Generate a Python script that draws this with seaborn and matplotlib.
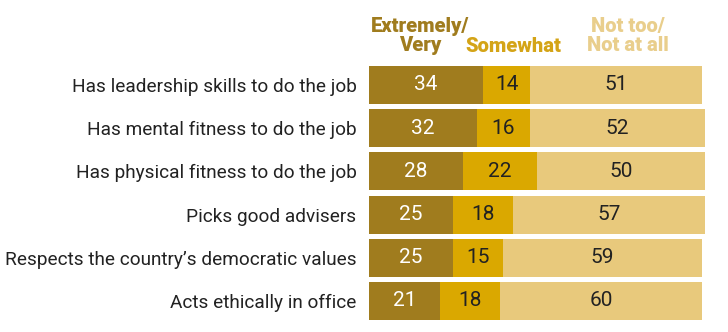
import matplotlib
matplotlib.use("Agg")
import matplotlib.pyplot as plt
import seaborn as sns
import pandas as pd
import numpy as np

categories = [
    "Has leadership skills to do the job",
    "Has mental fitness to do the job",
    "Has physical fitness to do the job",
    "Picks good advisers",
    "Respects the country\u2019s democratic values",
    "Acts ethically in office",
]
extremely_very = [34, 32, 28, 25, 25, 21]
somewhat = [14, 16, 22, 18, 15, 18]
not_too = [51, 52, 50, 57, 59, 60]
series_names = ["Extremely/\nVery", "Somewhat", "Not too/\nNot at all"]

c_dark = "#A07C1E"
c_mid = "#DAA800"
c_light = "#E8C97C"

sns.set_theme(style="white")
plt.rcParams["font.family"] = ["Roboto", "DejaVu Sans"]

df = pd.DataFrame({
    "cat": categories,
    "a": extremely_very,
    "b": somewhat,
    "c": not_too,
})
df["ab"] = df["a"] + df["b"]
df["abc"] = df["ab"] + df["c"]

fig = plt.figure(figsize=(7.28, 3.32), dpi=100)
ax = fig.add_axes([369 / 728, 1 - 322.6 / 332, 336 / 728, (322.6 - 63.4) / 332])

w = 0.88
for col, colr in (("abc", c_light), ("ab", c_mid), ("a", c_dark)):
    sns.barplot(data=df, y="cat", x=col, color=colr, width=w, saturation=1,
                ax=ax, orient="h", linewidth=0, edgecolor="none")

ax.set_xlim(0, 100)
ax.set_ylim(5.5, -0.5)
ax.set_xlabel("")
ax.set_ylabel("")
ax.set_xticks([])
for s in ax.spines.values():
    s.set_visible(False)
ax.tick_params(axis="y", length=0, pad=9, labelsize=13.7, labelcolor="#222222")

fs = 15
for i in range(len(categories)):
    a, b, c = extremely_very[i], somewhat[i], not_too[i]
    ax.text(a / 2, i, str(a), ha="center", va="center", color="white", fontsize=fs)
    ax.text(a + b / 2, i, str(b), ha="center", va="center", color="#222222", fontsize=fs)
    ax.text(a + b + c / 2, i, str(c), ha="center", va="center", color="#222222", fontsize=fs)

hf = 14.5
fig.text(420 / 728, 1 - 36 / 332, series_names[0], ha="center", va="center",
         color=c_dark, fontsize=hf, fontweight="heavy", linespacing=1.0)
fig.text(513 / 728, 1 - 46 / 332, series_names[1], ha="center", va="center",
         color="#D4A417", fontsize=hf, fontweight="heavy")
fig.text(628 / 728, 1 - 36 / 332, series_names[2], ha="center", va="center",
         color="#E9CE8C", fontsize=hf, fontweight="heavy", linespacing=1.0)

fig.savefig("out.png", dpi=100, facecolor="white")
